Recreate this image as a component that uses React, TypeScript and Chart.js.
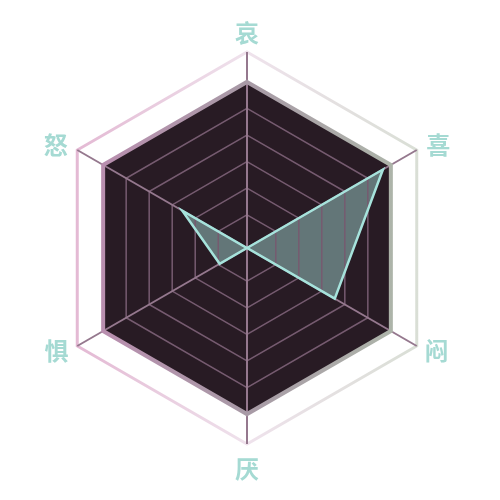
import React, { useEffect, useRef } from "react";
import { Chart, registerables } from "chart.js";

Chart.register(...registerables);

// ---- data ----
const categories = ["哀", "喜", "闷", "厌", "惧", "怒"];
const emotionValues = [0, 94.5, 61, 0, 19, 45];
const plateValues = [100, 100, 100, 100, 100, 100];
const tickValues = [0, 20, 36, 52, 68, 84, 100, 118];
const scaleMax = 118;

// ---- styles ----
const labelPadding = [19, 11, 9, 25, 10, 11];
const outerStops: [number, string][] = [
  [0, "#e2b3d0"],
  [0.5, "#efe2ec"],
  [1, "#d6ded2"],
];
const plateStops: [number, string][] = [
  [0, "#bb8db0"],
  [0.5, "#a89aa6"],
  [1, "#aeb8aa"],
];

function hGradient(chart: any, stops: [number, string][], value: number) {
  const scale = chart.scales && chart.scales.r;
  if (!scale || !chart.chartArea || !isFinite(scale.xCenter)) return stops[0][1];
  const d = scale.getDistanceFromCenterForValue(value);
  const g = chart.ctx.createLinearGradient(scale.xCenter - d, 0, scale.xCenter + d, 0);
  stops.forEach(([o, c]) => g.addColorStop(o, c));
  return g;
}

export default function App() {
  const ref = useRef<HTMLCanvasElement>(null);
  useEffect(() => {
    if (!ref.current) return;
    const chart = new Chart(ref.current, {
      type: "radar",
      data: {
        labels: categories,
        datasets: [
          {
            label: "情绪",
            data: emotionValues,
            borderColor: "#a6e3dc",
            borderWidth: 2.5,
            backgroundColor: "rgba(170,230,225,0.45)",
            fill: true,
            pointRadius: 0,
            pointHoverRadius: 0,
          },
          {
            label: "plate",
            data: plateValues,
            borderColor: (c: any) => hGradient(c.chart, plateStops, 100),
            borderWidth: 4,
            backgroundColor: "#281b24",
            fill: true,
            pointRadius: 0,
            pointHoverRadius: 0,
          },
        ],
      },
      options: {
        responsive: false,
        animation: false,
        layout: { padding: { left: 26, right: 32, top: 30, bottom: 28 } },
        plugins: {
          legend: { display: false },
          tooltip: { enabled: false },
          filler: { drawTime: "beforeDraw" },
        },
        scales: {
          r: {
            min: 0,
            max: scaleMax,
            afterBuildTicks: (s: any) => {
              s.ticks = tickValues.map((v) => ({ value: v }));
            },
            ticks: { display: false },
            grid: {
              color: (c: any) =>
                c.tick && c.tick.value === scaleMax
                  ? hGradient(c.chart, outerStops, scaleMax)
                  : "#765b70",
              lineWidth: (c: any) => (c.tick && c.tick.value === scaleMax ? 3 : 1.5),
            },
            angleLines: { color: "#95788e", lineWidth: 2 },
            pointLabels: {
              color: "#a5dad3",
              padding: (c: any) => labelPadding[c.index],
              font: {
                family: '"Noto Sans CJK SC", "Noto Sans", sans-serif',
                size: 24,
                weight: "bold",
                lineHeight: 0,
              },
            },
          },
        },
      } as any,
    });
    return () => chart.destroy();
  }, []);
  return (
    <div style={{ position: "absolute", left: 0, top: 0, width: 500, height: 500 }}>
      <canvas ref={ref} width={500} height={500} />
    </div>
  );
}
